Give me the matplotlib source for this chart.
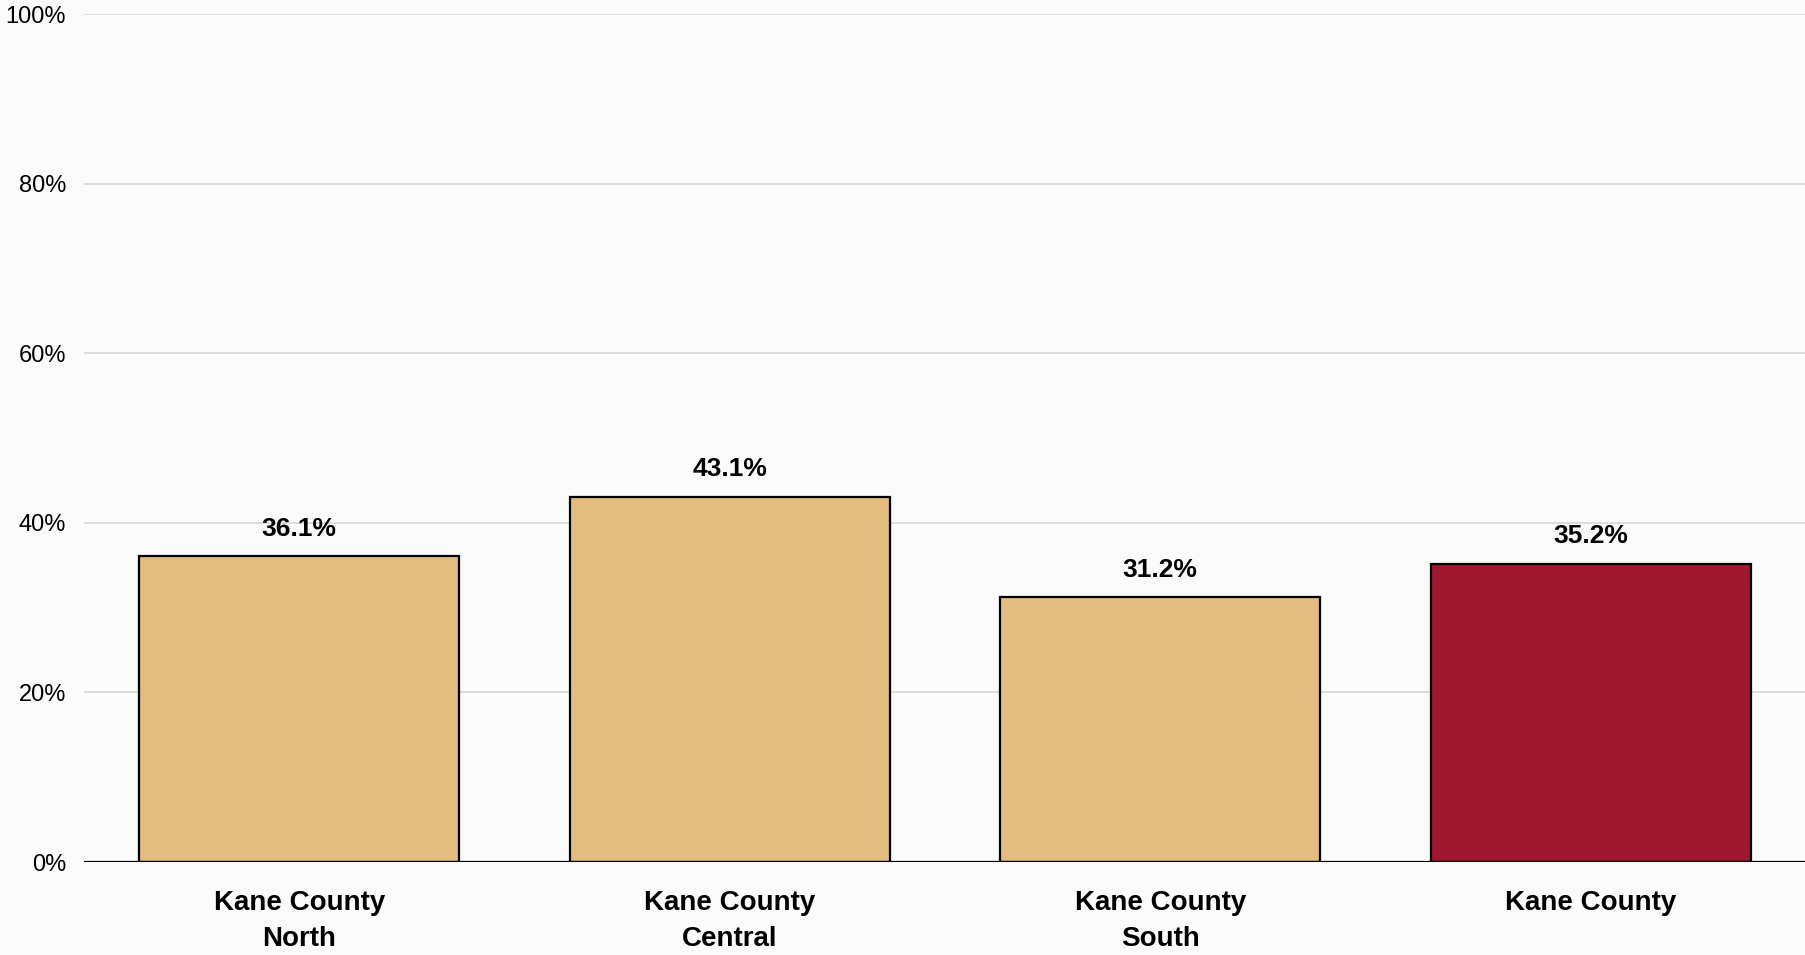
import matplotlib.pyplot as plt
from matplotlib.ticker import FuncFormatter

categories = ["Kane County\nNorth", "Kane County\nCentral", "Kane County\nSouth", "Kane County"]
values = [36.1, 43.1, 31.2, 35.2]
colors = ["#E4BC80", "#E4BC80", "#E4BC80", "#A0182F"]
y_ticks = [0, 20, 40, 60, 80, 100]

plt.rcParams["font.family"] = ["Liberation Sans", "DejaVu Sans"]

fig = plt.figure(figsize=(18.06, 9.55), dpi=100, facecolor="#fafafa")
ax = fig.add_axes([84 / 1806, 93 / 955, 1 - 84 / 1806, 848 / 955])
ax.set_facecolor("#fafafa")

x = list(range(len(categories)))
bars = ax.bar(x, values, width=0.744, color=colors, edgecolor="black", linewidth=1.6, zorder=3)

for xi, v in zip(x, values):
    ax.text(xi, v + 1.8, f"{v:.1f}%", ha="center", va="bottom",
            fontsize=19, fontweight="bold", color="black", zorder=4)

ax.set_xlim(-0.5, 3.5)
ax.set_ylim(0, 100)
ax.set_yticks(y_ticks)
ax.yaxis.set_major_formatter(FuncFormatter(lambda v, _: f"{v:.0f}%"))
ax.grid(axis="y", color="#dcdcdc", linewidth=1.4, zorder=0)
ax.axhline(0, color="black", linewidth=1.6, zorder=5)

ax.set_xticks(x)
ax.set_xticklabels(categories, fontsize=20, fontweight="bold", linespacing=1.5)
ax.tick_params(axis="x", length=0, pad=20)
ax.tick_params(axis="y", length=0, pad=13, labelsize=17)

for s in ax.spines.values():
    s.set_visible(False)

fig.savefig("out.png", dpi=100, facecolor=fig.get_facecolor())
